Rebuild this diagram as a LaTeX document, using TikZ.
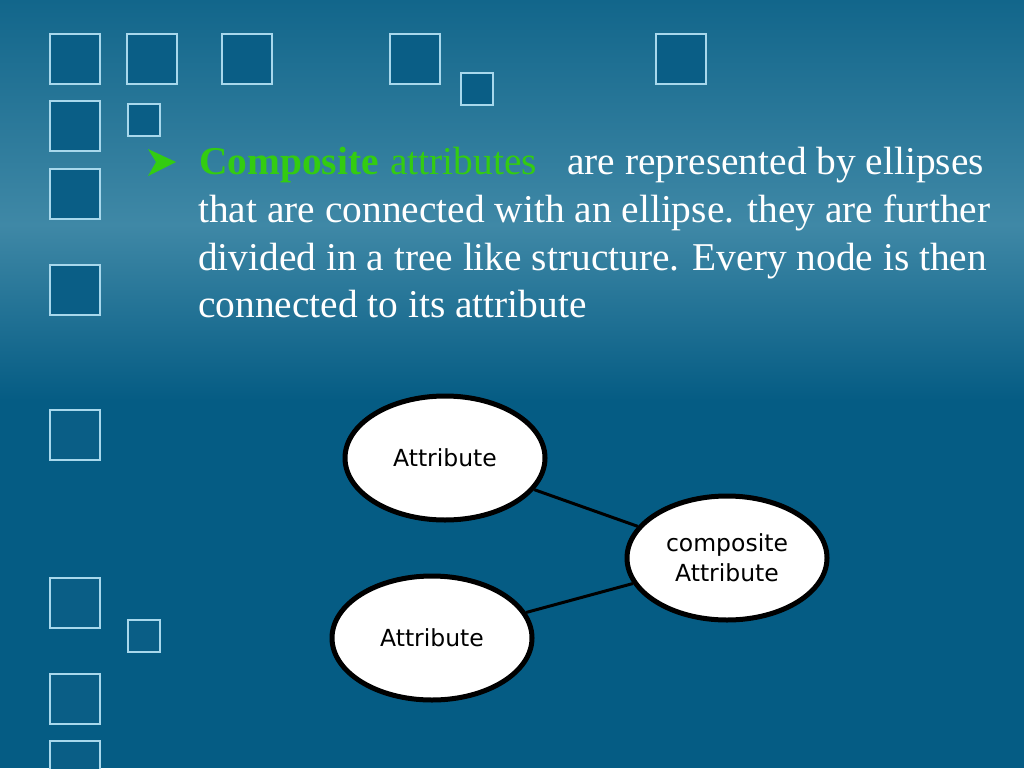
\documentclass[tikz,border=0pt]{standalone}
\usepackage{fontspec}
\setmainfont{Liberation Serif}
\newfontfamily\nodefont{DejaVu Sans}
\usetikzlibrary{shapes.geometric}
\definecolor{bgtop}{HTML}{12668B}
\definecolor{bgmid}{HTML}{3F88A6}
\definecolor{bgbot}{HTML}{055C84}
\definecolor{sqfill}{HTML}{0A5E86}
\definecolor{sqline}{HTML}{A8D8EC}
\definecolor{grn}{HTML}{33CC11}
\tikzset{
  sq/.style={draw=sqline, line width=1.8pt, fill=sqfill},
  attr/.style={ellipse, draw=black, line width=5pt, fill=white, minimum width=200pt, minimum height=124pt, inner sep=0pt, font=\nodefont\fontsize{23.5}{30}\selectfont, align=center},
  body/.style={anchor=base west, inner sep=0pt, text=white, font=\fontsize{39.4}{47}\selectfont},
  conn/.style={line width=3pt, black}
}
\begin{document}
\begin{tikzpicture}[x=1pt,y=-1pt]
\useasboundingbox (0,0) rectangle (1024,768);
% background
\shade[top color=bgtop, bottom color=bgmid] (0,0) rectangle (1024,225);
\shade[top color=bgmid, bottom color=bgbot] (0,225) rectangle (1024,400);
\fill[bgbot] (0,400) rectangle (1024,768);
% decorative squares
\foreach \x/\y/\s in {50/34/50,127/34/50,222/34/50,390/34/50,461/73/32,656/34/50,
  50/101/50,128/104/32,50/169/50,50/265/50,50/410/50,50/578/50,128/620/32,50/674/50,50/741/50}
  \draw[sq] (\x,\y) rectangle ++(\s,\s);
% bullet
\fill[grn] (148,149) -- (176,162) -- (148,176) -- (156,162) -- cycle;
% text
\node[body, text=grn, font=\bfseries\fontsize{39.4}{47}\selectfont] (t1a) at (199,174) {Composite};
\node[body, text=grn] (t1b) at (390,174) {attributes};
\node[body] (t1c) at (567,174) {are represented by ellipses};
\node[body] (t2) at (198,222) {that are connected with an ellipse. they are further};
\node[body] (t3) at (198,270) {divided in a tree like structure. Every node is then};
\node[body] (t4) at (198,317) {connected to its attribute};
% diagram
\node[attr] (a1) at (445,458) {Attribute};
\node[attr] (a2) at (432,638) {Attribute};
\node[attr] (c) at (727,558) {composite\\Attribute};
\draw[conn] (a1) -- (c);
\draw[conn] (a2) -- (c);
\end{tikzpicture}
\end{document}
